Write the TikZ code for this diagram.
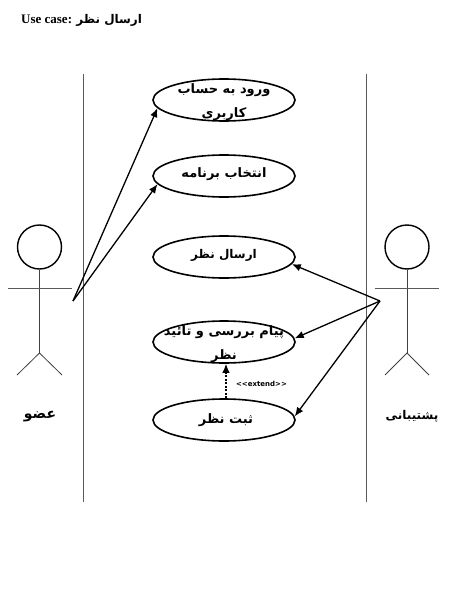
\documentclass[tikz,border=0pt]{standalone}
\usepackage{fontspec}
\usepackage{xcolor}
\usetikzlibrary{calc}
\usetikzlibrary{arrows.meta}
\usetikzlibrary{shapes.geometric}
\TeXXeTstate=1
\newfontfamily\arabicfont[Script=Arabic]{DejaVu Sans}
\setmainfont{Liberation Serif}
\setsansfont{DejaVu Sans}
\newcommand{\fa}[1]{{\arabicfont\bfseries\beginR #1\endR}}

\begin{document}
\begin{tikzpicture}[x=1pt,y=-1pt]

\tikzset{
    usecase/.style = {
    draw, ellipse, line width=1.6pt,
    minimum width=142pt,
    minimum height=42pt
    },
    casetext/.style = {
    font=\fontsize{13}{24}\selectfont, align=center, inner sep=0pt
    }
}

\tikzstyle{assoc}=[-{Latex[length=9pt,width=7.5pt]}, line width=1.3pt]
\tikzstyle{border}=[draw=black!65, line width=1pt]
\tikzstyle{limb}=[draw=black!75, line width=0.8pt]
\tikzstyle{actorname}=[font=\fontsize{14}{18}\selectfont, inner sep=0pt]

\useasboundingbox (0,0) rectangle (452,605);

\node (title) [anchor=west, inner sep=0pt, font=\fontsize{13}{16}\selectfont\bfseries] at (21,20.5) {Use case: \fa{\fontsize{12}{16}\selectfont ارسال نظر}};

% system boundary
\draw [border] (83,74) -- (83,502);
\draw [border] (366,74) -- (366,502);

% use cases
\node (login) [usecase] at (224,100) {};
\node (select) [usecase] at (224,176) {};
\node (send) [usecase] at (224,257) {};
\node (review) [usecase] at (224,342) {};
\node (record) [usecase] at (224,420) {};

\node (login-t) [casetext] at (224,102) {\fa{ورود به حساب}\\\fa{کاربری}};
\node (select-t) [casetext] at (224,174) {\fa{انتخاب برنامه}};
\node (send-t) [casetext, font=\fontsize{12}{24}\selectfont] at (224,255.5) {\fa{ارسال نظر}};
\node (review-t) [casetext] at (224,344.5) {\fa{پیام بررسی و تائید}\\\fa{نظر}};
\node (record-t) [casetext] at (226,420) {\fa{ثبت نظر}};

% left actor
\node (member-head) [draw, circle, line width=1.4pt, minimum size=44pt, inner sep=0pt] at (39.5,247) {};
\coordinate (member-hip) at (39.5,353);
\coordinate (member-arm-l) at (8,288);
\coordinate (member-arm-r) at (72,288);
\coordinate (member-foot-l) at (17,375);
\coordinate (member-foot-r) at (62,375);
\draw [limb] (member-head.south) -- (member-hip);
\draw [border] (member-arm-l) -- (member-arm-r);
\draw [limb] (member-foot-l) -- (member-hip) -- (member-foot-r);
\node (member) [actorname] at (40,417) {\fa{عضو}};

% right actor
\node (support-head) [draw, circle, line width=1.4pt, minimum size=44pt, inner sep=0pt] at (407,247) {};
\coordinate (support-hip) at (407,353);
\coordinate (support-arm-l) at (375,288);
\coordinate (support-arm-r) at (439,288);
\coordinate (support-foot-l) at (385,375);
\coordinate (support-foot-r) at (429,375);
\draw [limb] (support-head.south) -- (support-hip);
\draw [border] (support-arm-l) -- (support-arm-r);
\draw [limb] (support-foot-l) -- (support-hip) -- (support-foot-r);
\node (support) [actorname, font=\fontsize{12}{18}\selectfont] at (412,416) {\fa{پشتیبانی}};

% connectors
\coordinate (member-hand) at (73,301);
\coordinate (support-hand) at (380,301);
\draw [assoc] (member-hand) -- (login.187);
\draw [assoc] (member-hand) -- (select.187);
\draw [assoc] (support-hand) -- (send.-6);
\draw [assoc] (support-hand) -- (review.3);
\draw [assoc] (support-hand) -- (record.3);
\draw [assoc, dashed, dash pattern=on 2pt off 1.5pt] (record.north -| 226,0) -- (review.south -| 226,0);

\node (extend) [font=\sffamily\bfseries\fontsize{7}{8}\selectfont, inner sep=0pt] at (261.5,384) {<{}<extend>{}>};

\end{tikzpicture}
\end{document}
